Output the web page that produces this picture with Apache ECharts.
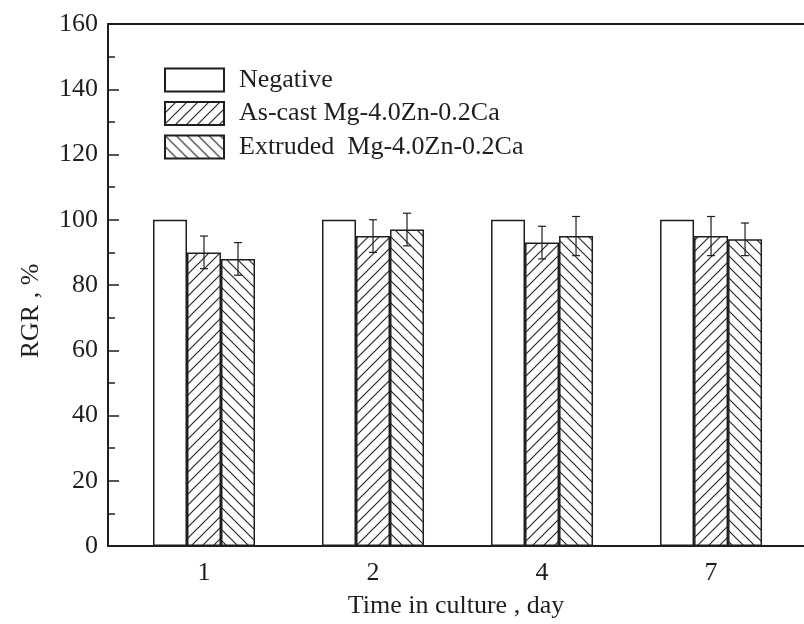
<!DOCTYPE html>
<html>
<head>
<meta charset="utf-8">
<script src="https://cdn.jsdelivr.net/npm/echarts@6/dist/echarts.min.js"></script>
<style>
  html, body { margin: 0; padding: 0; background: #fff; }
  #chart { width: 804px; height: 624px; }
</style>
</head>
<body>
<div id="chart"></div>
<script>
const categories = ['1', '2', '4', '7'];
const negative = [100, 100, 100, 100];
const asCast = [90, 95, 93, 95];
const extruded = [88, 97, 95, 94];
const asCastErr = [5, 5, 5, 6];
const extrudedErr = [5, 5, 6, 5];
const seriesNames = ['Negative', 'As-cast Mg-4.0Zn-0.2Ca', 'Extruded  Mg-4.0Zn-0.2Ca'];

const font = 'Liberation Serif';
const ink = '#1e1e1e';

// diagonal hatch tile, dir > 0 -> '/', else '\'
function hatch(dir) {
  const s = 11;
  const c = document.createElement('canvas');
  c.width = s; c.height = s;
  const g = c.getContext('2d');
  g.fillStyle = '#fff';
  g.fillRect(0, 0, s, s);
  g.strokeStyle = '#2a2a2a';
  g.lineWidth = 1.2;
  g.beginPath();
  if (dir > 0) {
    g.moveTo(-1, s + 1); g.lineTo(s + 1, -1);
    g.moveTo(-1, 1); g.lineTo(1, -1);
    g.moveTo(s - 1, s + 1); g.lineTo(s + 1, s - 1);
  } else {
    g.moveTo(-1, -1); g.lineTo(s + 1, s + 1);
    g.moveTo(s - 1, -1); g.lineTo(s + 1, 1);
    g.moveTo(-1, s - 1); g.lineTo(1, s + 1);
  }
  g.stroke();
  return c;
}

const barW = 34;

function barSeries(name, values, fill) {
  return {
    name: name,
    type: 'bar',
    barWidth: barW,
    barGap: '0%',
    data: values.map((v, i) => [i, v]),
    itemStyle: { color: fill, borderColor: ink, borderWidth: 1.5 },
    emphasis: { disabled: true }
  };
}

function errSeries(values, errs, offset) {
  return {
    type: 'custom',
    z: 5,
    encode: { x: 0, y: [1, 2] },
    data: values.map((v, i) => [i, v - errs[i], v + errs[i]]),
    renderItem: function (params, api) {
      const lo = api.coord([api.value(0), api.value(1)]);
      const hi = api.coord([api.value(0), api.value(2)]);
      const x = lo[0] + offset;
      const cap = 4;
      const st = { stroke: ink, lineWidth: 1.2 };
      return {
        type: 'group',
        children: [
          { type: 'line', shape: { x1: x, y1: lo[1], x2: x, y2: hi[1] }, style: st },
          { type: 'line', shape: { x1: x - cap, y1: lo[1], x2: x + cap, y2: lo[1] }, style: st },
          { type: 'line', shape: { x1: x - cap, y1: hi[1], x2: x + cap, y2: hi[1] }, style: st }
        ]
      };
    }
  };
}

const chart = echarts.init(document.getElementById('chart'));

const option = {
  backgroundColor: '#fff',
  animation: false,
  grid: { left: 108, right: 0, top: 24, bottom: 78 },
  legend: {
    orient: 'vertical',
    left: 164,
    top: 67,
    padding: 0,
    icon: 'rect',
    itemWidth: 59,
    itemHeight: 23,
    itemGap: 7.5,
    data: seriesNames,
    textStyle: { fontFamily: font, fontSize: 26, color: ink, padding: [0, 0, 0, 10] },
    selectedMode: false
  },
  xAxis: [
    {
      type: 'value',
      min: -0.568,
      max: 3.55,
      splitLine: { show: false },
      axisLine: { onZero: false, lineStyle: { color: ink, width: 2 } },
      axisTick: { show: false },
      axisLabel: {
        customValues: [0, 1, 2, 3],
        formatter: v => categories[Math.round(v)],
        fontFamily: font, fontSize: 26, color: ink, margin: 14
      },
      name: 'Time in culture , day',
      nameLocation: 'middle',
      nameGap: 47,
      nameTextStyle: { fontFamily: font, fontSize: 26, color: ink }
    },
    {
      type: 'value',
      position: 'top',
      min: -0.568,
      max: 3.55,
      splitLine: { show: false },
      axisLine: { show: true, onZero: false, lineStyle: { color: ink, width: 2 } },
      axisTick: { show: false },
      axisLabel: { show: false }
    }
  ],
  yAxis: {
    type: 'value',
    min: 0,
    max: 160,
    interval: 20,
    splitLine: { show: false },
    axisLine: { show: true, onZero: false, lineStyle: { color: ink, width: 2 } },
    axisTick: { inside: true, length: 11, lineStyle: { color: ink, width: 1.5 } },
    minorTick: { show: true, splitNumber: 2, length: 7, lineStyle: { color: ink, width: 1.5 } },
    axisLabel: { fontFamily: font, fontSize: 26, color: ink, margin: 10 },
    name: 'RGR , %',
    nameLocation: 'middle',
    nameGap: 64,
    nameTextStyle: { fontFamily: font, fontSize: 26, color: ink, padding: [0, 52, 0, 0] }
  },
  series: [
    barSeries(seriesNames[0], negative, '#fff'),
    barSeries(seriesNames[1], asCast, { image: hatch(1), repeat: 'repeat' }),
    barSeries(seriesNames[2], extruded, { image: hatch(-1), repeat: 'repeat' }),
    errSeries(asCast, asCastErr, 0),
    errSeries(extruded, extrudedErr, barW)
  ]
};

chart.setOption(option);
</script>
</body>
</html>
